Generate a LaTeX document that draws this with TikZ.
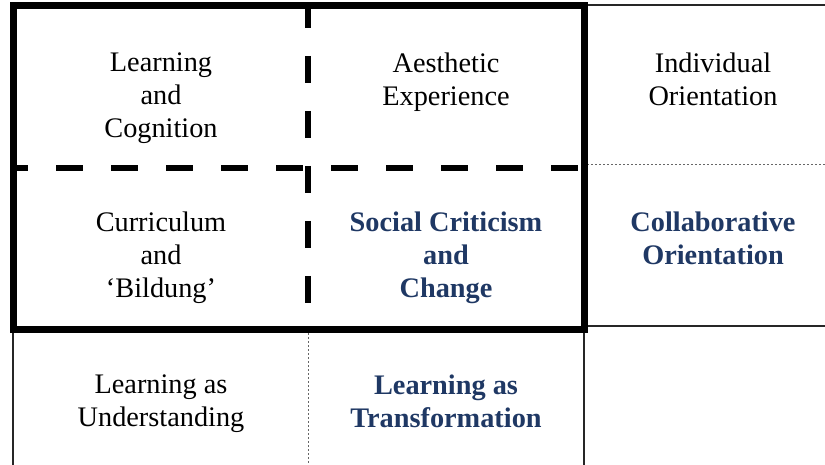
\documentclass[tikz,border=0pt]{standalone}
\usepackage{fontspec}
\setmainfont{Liberation Serif}
\definecolor{navy}{RGB}{31,56,100}
\newcommand{\cellfont}{\fontsize{28.3}{33}\selectfont}
\tikzset{
  cell/.style={anchor=north,align=center,inner sep=0pt,font=\cellfont},
  keycell/.style={cell,text=navy,font=\cellfont\bfseries},
  frame/.style={line width=7pt},
  split/.style={line width=6pt,dash pattern=on 27pt off 28pt},
  rule/.style={line width=1.3pt,black!85},
  dots/.style={line width=0.8pt,black!60,dash pattern=on 2pt off 2pt}
}

\begin{document}
\begin{tikzpicture}[x=1pt,y=-1pt]
\useasboundingbox (0,0) rectangle (825,465);
\draw [rule] (584,5) -- (825,5);
\draw [dots] (587,164) -- (825,164);
\draw [rule] (584,326) -- (825,326);
\draw [rule] (13,329) -- (13,465);
\draw [dots] (308,329) -- (308,465);
\draw [rule] (584,329) -- (584,465);
\draw [split,dash phase=12pt] (13,168) -- (584,168);
\draw [split,dash phase=5pt] (308,6) -- (308,329);
\draw [frame] (13,6) rectangle (584,329);
\node [cell] (lc) at (161,53) {Learning\\and\\Cognition};
\node [cell] (ae) at (446,53) {Aesthetic\\Experience};
\node [cell] (io) at (713,53) {Individual\\Orientation};
\node [cell] (cb) at (161,212) {Curriculum\\and\\`Bildung'};
\node [keycell] (sc) at (446,212) {Social Criticism\\and\\Change};
\node [keycell] (co) at (713,212) {Collaborative\\Orientation};
\node [cell] (lu) at (161,375) {Learning as\\Understanding};
\node [keycell] (lt) at (446,375) {Learning as\\Transformation};
\end{tikzpicture}
\end{document}
